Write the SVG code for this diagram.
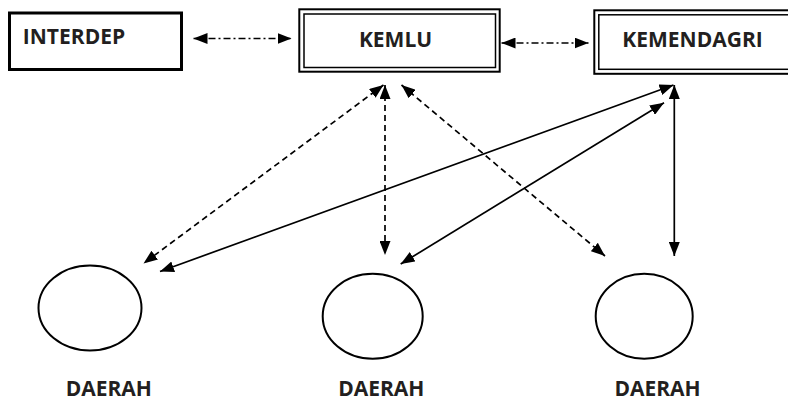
<svg xmlns="http://www.w3.org/2000/svg" width="788" height="401" viewBox="0 0 788 401">
  <style>
    .box { fill: #fff; stroke: #000; }
    .lbl { font-family: "Open Sans", "Liberation Sans", sans-serif; font-weight: bold; font-size: 21px; fill: #231f20; text-anchor: middle; }
    .region { fill: none; stroke: #000; stroke-width: 2; }
    .link { fill: none; stroke: #000; stroke-width: 1.7; marker-start: url(#head); marker-end: url(#head); }
    .dash { stroke-dasharray: 6 4; }
    .dashdot { stroke-dasharray: 7 3 2 3; }
  </style>
  <defs>
    <marker id="head" viewBox="0 0 14 11" refX="14" refY="5.5" markerWidth="14" markerHeight="11" markerUnits="userSpaceOnUse" orient="auto-start-reverse">
      <path d="M0,0 L14,5.5 L0,11 Z" fill="#000"/>
    </marker>
  </defs>
  <rect width="788" height="401" fill="#fff"/>

  <g id="interdep">
    <rect class="box" x="9.5" y="13" width="172" height="56.5" stroke-width="3"/>
    <text class="lbl" x="74" y="44">INTERDEP</text>
  </g>

  <g id="kemlu">
    <rect class="box" x="299.3" y="9.3" width="200.4" height="62.4" stroke-width="2"/>
    <rect class="box" x="304" y="14" width="191.5" height="53.5" stroke-width="1.5"/>
    <text class="lbl" x="395.5" y="47">KEMLU</text>
  </g>

  <g id="kemendagri">
    <rect class="box" x="594.3" y="10.3" width="220" height="63.5" stroke-width="2"/>
    <rect class="box" x="598.8" y="14.8" width="220" height="54.5" stroke-width="1.5"/>
    <text class="lbl" x="692.5" y="47">KEMENDAGRI</text>
  </g>

  <g id="daerah-1">
    <ellipse class="region" cx="90" cy="308" rx="51.5" ry="42.5"/>
    <text class="lbl" x="108.8" y="396">DAERAH</text>
  </g>

  <g id="daerah-2">
    <ellipse class="region" cx="372.7" cy="316.3" rx="50" ry="42.5"/>
    <text class="lbl" x="381.3" y="396">DAERAH</text>
  </g>

  <g id="daerah-3">
    <ellipse class="region" cx="644.2" cy="316.3" rx="48.5" ry="42.5"/>
    <text class="lbl" x="657.5" y="396">DAERAH</text>
  </g>

  <g id="connectors">
    <!-- top row: dash-dot links between the central offices -->
    <line class="link dashdot" x1="193.5" y1="38.5" x2="291.5" y2="38.5"/>
    <line class="link dashdot" x1="501.5" y1="43" x2="588.5" y2="43"/>
    <!-- KEMLU to each region (dashed) -->
    <line class="link dash" x1="383.5" y1="85" x2="143.5" y2="263.5"/>
    <line class="link dash" x1="385" y1="85" x2="385" y2="255"/>
    <line class="link dash" x1="401.5" y1="85" x2="605" y2="256"/>
    <!-- KEMENDAGRI to each region (solid) -->
    <line class="link" x1="673.5" y1="85" x2="160" y2="271.5"/>
    <line class="link" x1="664" y1="102.8" x2="400.7" y2="264"/>
    <line class="link" x1="674.3" y1="85" x2="674.3" y2="256"/>
  </g>
</svg>
